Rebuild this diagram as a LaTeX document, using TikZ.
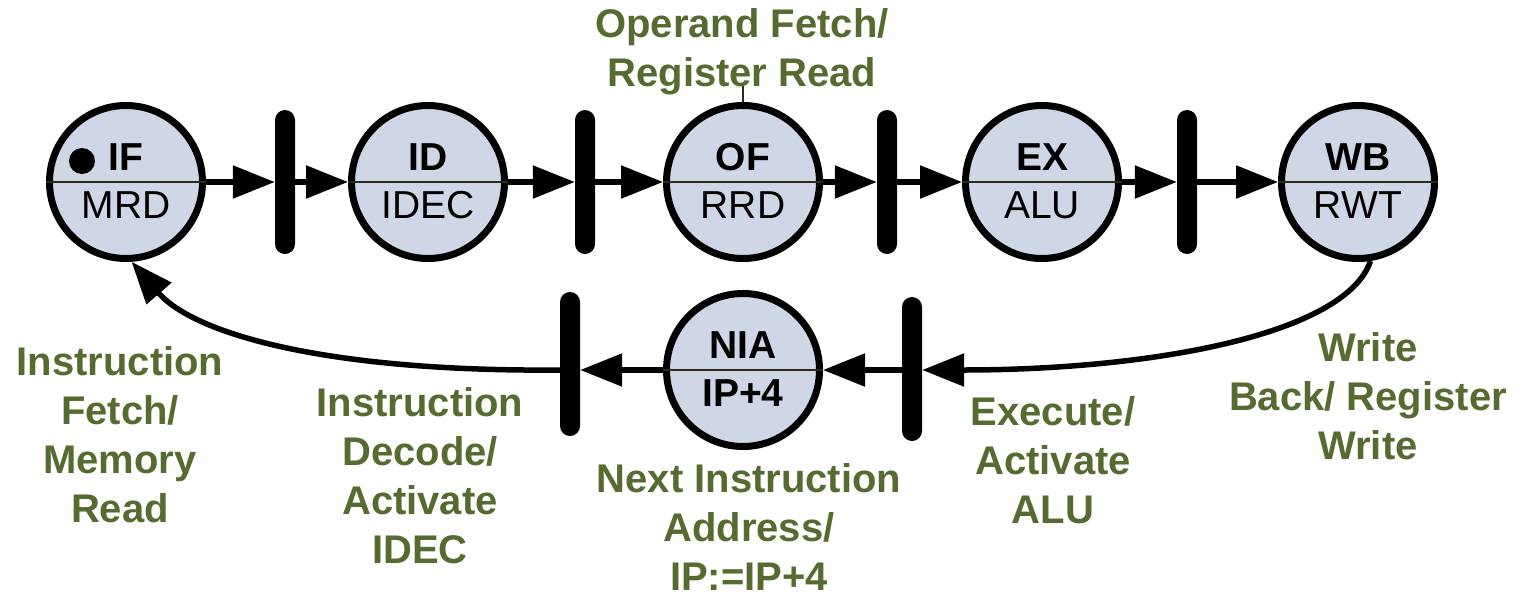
\documentclass[tikz,border=0pt]{standalone}
\usepackage{fontspec}
\setmainfont{Liberation Sans}
\usetikzlibrary{arrows.meta}
\definecolor{stagefill}{RGB}{207,215,231}
\definecolor{notegreen}{RGB}{85,107,47}
\definecolor{splitline}{RGB}{45,42,25}
\tikzset{
  stage/.style={circle, draw=black, line width=7pt, fill=stagefill, minimum size=153pt, inner sep=0pt},
  latch/.style={rectangle, fill=black, rounded corners=10pt, minimum width=20pt, minimum height=144pt, inner sep=0pt},
  token/.style={circle, fill=black, minimum size=26pt, inner sep=0pt},
  conn/.style={line width=5.5pt, -{Triangle[length=42pt,width=32pt]}},
  divider/.style={draw=splitline, line width=1.6pt},
  upper/.style={anchor=base, inner sep=0pt, font=\fontsize{39}{47}\selectfont\bfseries},
  lower/.style={anchor=base, inner sep=0pt, font=\fontsize{39}{47}\selectfont},
  % multi-line notes: the base anchor sits on the baseline of the last line
  note/.style={anchor=base, align=center, text=notegreen, inner sep=0pt, font=\fontsize{40}{49}\selectfont\bfseries},
  pin/.style={draw=splitline, line width=1.6pt},
}
\begin{document}
\begin{tikzpicture}[x=1pt, y=-1pt]
\useasboundingbox (0,0) rectangle (1522,597);

% pipeline stages (top row)
\node[stage] (IF) at (126,182) {};
\node[stage] (ID) at (428,182) {};
\node[stage] (OF) at (743,182) {};
\node[stage] (EX) at (1042,182) {};
\node[stage] (WB) at (1358,182) {};
% next instruction address stage (bottom row)
\node[stage] (NIA) at (743,370) {};

% pipeline latches
\node[latch] (l1) at (285,182) {};
\node[latch] (l2) at (585,182) {};
\node[latch] (l3) at (887,182) {};
\node[latch] (l4) at (1187,182) {};
\node[latch] (l5) at (570,364) {};
\node[latch] (l6) at (912,369) {};

% split lines inside the stage circles
\foreach \s in {IF,ID,OF,EX,WB,NIA}
  \draw[divider] (\s.west) -- (\s.east);

% stage captions
\node[upper] (tIF)  at ([yshift=12pt]IF.center)  {IF};
\node[lower] (bIF)  at ([yshift=-36pt]IF.center) {MRD};
\node[upper] (tID)  at ([yshift=12pt]ID.center)  {ID};
\node[lower] (bID)  at ([yshift=-36pt]ID.center) {IDEC};
\node[upper] (tOF)  at ([yshift=12pt]OF.center)  {OF};
\node[lower] (bOF)  at ([yshift=-36pt]OF.center) {RRD};
\node[upper] (tEX)  at ([yshift=12pt]EX.center)  {EX};
\node[lower] (bEX)  at ([yshift=-36pt]EX.center) {ALU};
\node[upper] (tWB)  at ([yshift=12pt]WB.center)  {WB};
\node[lower] (bWB)  at ([yshift=-36pt]WB.center) {RWT};
\node[upper] (tNIA) at ([yshift=12pt]NIA.center)  {NIA};
\node[upper] (bNIA) at ([yshift=-36pt]NIA.center) {IP+4};

% token marking the active stage
\node[token] (tok) at (82,161) {};

% forward flow
\draw[conn] (IF) -- (l1);
\draw[conn] (l1) -- (ID);
\draw[conn] (ID) -- (l2);
\draw[conn] (l2) -- (OF);
\draw[conn] (OF) -- (l3);
\draw[conn] (l3) -- (EX);
\draw[conn] (EX) -- (l4);
\draw[conn] (l4) -- (WB);

% feedback path
\draw[conn] (WB.-81) .. controls (1345,335) and (1150,370) .. (l6.east |- NIA.east);
\draw[conn] (l6.west |- NIA.east) -- (NIA.east);
\draw[conn] (NIA.west) -- (NIA.west -| l5.east);
\draw[conn] (l5.west |- NIA.west) .. controls (330,372) and (195,335) .. (IF.-86);

% stage descriptions
\node[note] (ofnote) at (742,86) {Operand Fetch/\\Register Read};
\coordinate (ofpin) at (743,86);
\draw[pin] (ofpin) -- (OF.north);
\node[note] (ifnote) at (120,522) {Instruction\\Fetch/\\Memory\\Read};
\node[note] (idnote) at (420,563) {Instruction\\Decode/\\Activate\\IDEC};
\node[note] (nianote) at (749,590) {Next Instruction\\Address/\\IP:=IP+4};
\node[note] (exnote) at (1053,523) {Execute/\\Activate\\ALU};
\node[note] (wbnote) at (1368,459) {Write\\Back/ Register\\Write};
\end{tikzpicture}
\end{document}
